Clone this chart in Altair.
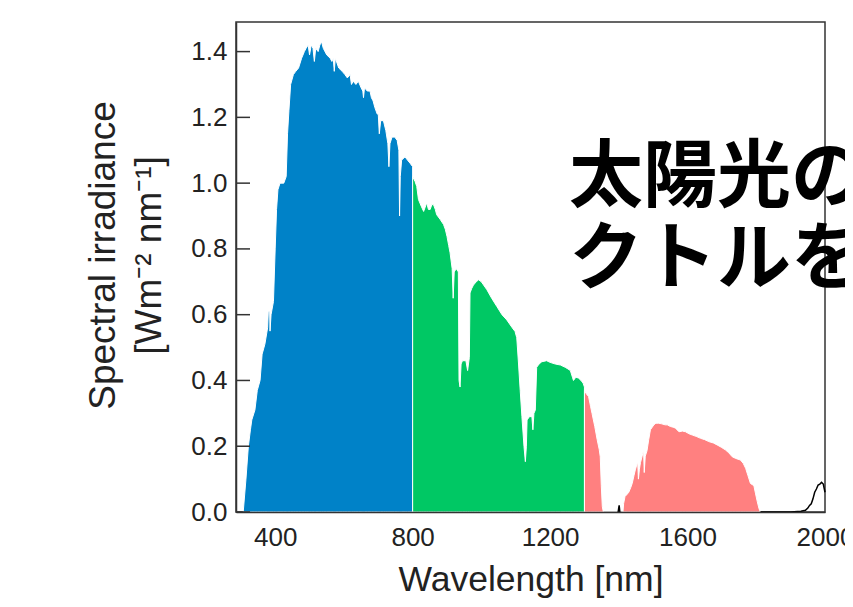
import altair as alt
import pandas as pd

# ---- data ----
blue_nm = [307, 315, 322, 328, 332, 341, 348, 356, 362, 370, 378, 380, 384, 385, 388, 395,
           400, 404, 408, 414, 425, 432, 436, 440, 445, 453, 460, 468, 477, 485, 490, 496,
           500, 505, 510, 514, 518, 525, 530, 535, 540, 550, 560, 565, 569, 572, 575, 585,
           595, 603, 610, 618, 622, 627, 635, 642, 650, 655, 657, 660, 668, 676, 680, 685,
           690, 697, 700, 703, 707, 715, 722, 728, 731, 734, 740, 748, 755, 760, 762, 764,
           768, 778, 785, 793, 800]
blue_val = [0.00, 0.10, 0.20, 0.25, 0.28, 0.31, 0.37, 0.40, 0.48, 0.51, 0.56, 0.61, 0.61, 0.55, 0.60, 0.64,
            0.80, 0.92, 0.98, 1.00, 1.00, 1.02, 1.15, 1.22, 1.30, 1.33, 1.34, 1.35, 1.38, 1.40, 1.41, 1.42,
            1.39, 1.42, 1.41, 1.37, 1.41, 1.40, 1.42, 1.43, 1.41, 1.39, 1.38, 1.37, 1.38, 1.34, 1.38, 1.35,
            1.34, 1.33, 1.32, 1.33, 1.30, 1.31, 1.30, 1.31, 1.29, 1.28, 1.26, 1.29, 1.28, 1.28, 1.26, 1.25,
            1.23, 1.21, 1.21, 1.15, 1.19, 1.19, 1.16, 1.12, 1.05, 1.12, 1.14, 1.14, 1.13, 1.10, 0.90, 1.02,
            1.07, 1.08, 1.07, 1.06, 1.05]

green_nm = [800, 807, 812, 817, 825, 832, 841, 846, 851, 856, 861, 866, 870, 880, 890, 895,
            900, 905, 909, 915, 918, 921, 927, 933, 935, 938, 941, 945, 955, 960, 965, 967,
            972, 977, 985, 992, 1000, 1016, 1030, 1045, 1060, 1074, 1090, 1098, 1103, 1108, 1113, 1118,
            1124, 1128, 1131, 1133, 1140, 1147, 1150, 1153, 1157, 1161, 1168, 1176, 1190, 1200, 1215, 1230,
            1244, 1252, 1259, 1265, 1268, 1275, 1283, 1290, 1296, 1300]
green_val = [1.02, 1.005, 0.99, 0.95, 0.93, 0.914, 0.94, 0.92, 0.92, 0.935, 0.934, 0.92, 0.904, 0.89, 0.874, 0.86,
             0.838, 0.81, 0.788, 0.74, 0.65, 0.73, 0.74, 0.73, 0.40, 0.38, 0.45, 0.46, 0.46, 0.43, 0.47, 0.666,
             0.68, 0.69, 0.70, 0.706, 0.70, 0.676, 0.65, 0.625, 0.60, 0.584, 0.56, 0.549, 0.53, 0.453, 0.37, 0.29,
             0.20, 0.153, 0.20, 0.28, 0.29, 0.29, 0.25, 0.30, 0.31, 0.44, 0.45, 0.457, 0.46, 0.455, 0.45, 0.447,
             0.44, 0.435, 0.43, 0.41, 0.40, 0.41, 0.407, 0.40, 0.392, 0.38]

red_nm = [1300, 1305, 1312, 1318, 1322, 1330, 1337, 1343, 1346, 1349, 1352, 1355, 1412, 1414, 1418, 1425,
          1429, 1435, 1439, 1444, 1448, 1455, 1457, 1460, 1463, 1468, 1472, 1474, 1477, 1482, 1487, 1492,
          1502, 1508, 1516, 1525, 1535, 1541, 1550, 1558, 1565, 1575, 1585, 1594, 1604, 1614, 1625, 1638,
          1650, 1662, 1675, 1686, 1698, 1710, 1720, 1730, 1740, 1754, 1762, 1769, 1776, 1783, 1790, 1793,
          1798, 1803, 1808, 1812]
red_val = [0.37, 0.36, 0.351, 0.32, 0.30, 0.26, 0.22, 0.19, 0.168, 0.08, 0.016, 0.0, 0.0, 0.026, 0.047, 0.055,
           0.06, 0.075, 0.087, 0.11, 0.128, 0.153, 0.10, 0.13, 0.15, 0.17, 0.189, 0.12, 0.17, 0.186, 0.22, 0.25,
           0.265, 0.27, 0.27, 0.268, 0.265, 0.265, 0.26, 0.258, 0.255, 0.244, 0.246, 0.244, 0.238, 0.234, 0.23, 0.224,
           0.22, 0.214, 0.21, 0.204, 0.197, 0.189, 0.18, 0.168, 0.163, 0.158, 0.148, 0.133, 0.11, 0.087, 0.082, 0.08,
           0.055, 0.031, 0.01, 0.0]

black_nm = [1398, 1401, 1403, 1812, 1850, 1900, 1930, 1943, 1950, 1955, 1960, 1965, 1970, 1975, 1980, 1985,
            1990, 1995, 2000]
black_val = [0.0, 0.02, 0.0, 0.0, 0.0, 0.0, 0.002, 0.005, 0.012, 0.02, 0.025, 0.04, 0.06, 0.07, 0.082, 0.085,
             0.09, 0.085, 0.06]
black_seg = [1, 1, 1] + [2] * 16

x_ticks = [400, 800, 1200, 1600, 2000]
y_ticks = [0.0, 0.2, 0.4, 0.6, 0.8, 1.0, 1.2, 1.4]
jp_lines = ["太陽光の", "クトルを"]

FONT = "Liberation Sans"

blue_df = pd.DataFrame({"nm": blue_nm, "val": blue_val})
green_df = pd.DataFrame({"nm": green_nm, "val": green_val})
red_df = pd.DataFrame({"nm": red_nm, "val": red_val})
black_df = pd.DataFrame({"nm": black_nm, "val": black_val, "seg": black_seg})
tick_df = pd.DataFrame({"val": y_ticks})

x_scale = alt.Scale(domain=[286, 2000], nice=False, zero=False)
y_scale = alt.Scale(domain=[0, 1.49], nice=False, zero=True)

x_axis = alt.Axis(values=x_ticks, format="d", title="Wavelength [nm]", ticks=False, grid=False,
                  labelFontSize=26, labelPadding=12, labelFont=FONT, labelColor="#222",
                  labelFlush=False, labelOverlap=False,
                  titleFontSize=35.5, titleFont=FONT, titleFontWeight="normal", titleColor="#222",
                  titlePadding=12, domainColor="#333", domainWidth=1.5, zindex=1)
y_axis = alt.Axis(values=y_ticks, format=".1f", title=["Spectral irradiance", "[Wm⁻² nm⁻¹]"],
                  ticks=False, grid=False, labelFontSize=26, labelPadding=9, labelFont=FONT,
                  labelColor="#222", labelFlush=False, labelOverlap=False,
                  titleFontSize=37, titleFont=FONT, titleFontWeight="normal", titleColor="#222",
                  titleLineHeight=46, titlePadding=22, titleY=233,
                  domainColor="#333", domainWidth=1.5, zindex=1)

X = alt.X("nm:Q", scale=x_scale, axis=x_axis)
Y = alt.Y("val:Q", scale=y_scale, axis=y_axis)


def area(df, color):
    return alt.Chart(df).mark_area(color=color, stroke="white", strokeWidth=1, opacity=1).encode(x=X, y=Y)


blue = area(blue_df, "#0082C8")
green = area(green_df, "#00C864")
red = area(red_df, "#FF8080")

black = alt.Chart(black_df).mark_line(color="black", strokeWidth=1.5).encode(
    x=X, y=Y, detail="seg:N",
)

ticks = alt.Chart(tick_df).mark_rule(color="#333", strokeWidth=1.5).encode(
    y=Y,
    x=alt.value(0),
    x2=alt.value(14),
)

jp1 = alt.Chart(pd.DataFrame({"t": [jp_lines[0]]})).mark_text(
    font="Noto Sans CJK JP", fontWeight="bold", fontSize=74, align="left", baseline="middle",
    color="black").encode(text="t:N", x=alt.value(333), y=alt.value(157))
jp2 = alt.Chart(pd.DataFrame({"t": [jp_lines[1]]})).mark_text(
    font="Noto Sans CJK JP", fontWeight="bold", fontSize=74, align="left", baseline="middle",
    color="black").encode(text="t:N", x=alt.value(333), y=alt.value(239))

chart = alt.layer(blue, green, red, black, ticks, jp1, jp2).properties(
    width=589, height=490,
    padding={"left": 228, "top": 14, "right": 20, "bottom": 86},
    autosize=alt.AutoSizeParams(type="none"),
).configure_view(stroke="#333", strokeWidth=1.5)

chart.save("out.html", embed_options={"renderer": "svg", "actions": False})
